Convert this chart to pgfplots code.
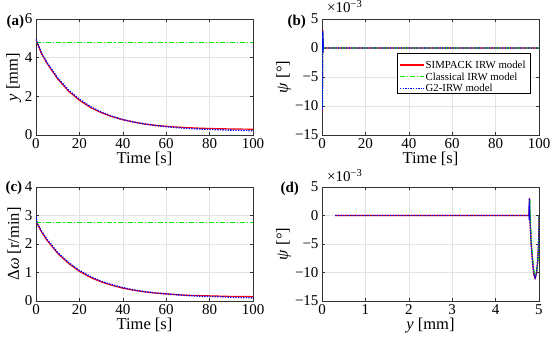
\documentclass[border=0pt]{standalone}
\usepackage{fontspec}
\setmainfont{Liberation Serif}
\usepackage{pgfplots}
\pgfplotsset{compat=1.18}
\definecolor{mred}{rgb}{1,0,0}
\definecolor{mgreen}{rgb}{0,0.92,0}
\definecolor{mblue}{rgb}{0,0,1}
\pgfplotsset{
  mystyle/.style={
    scale only axis, width=217pt, anchor=south west,
    axis line style={black!80, line width=0.6pt},
    grid=major, grid style={gray!22, line width=0.4pt},
    tick style={black!80, line width=0.5pt}, major tick length=3pt,
    tick align=inside,
    /pgf/number format/assume math mode=true,
    tick label style={font=\fontsize{15}{16}\selectfont},
    label style={font=\fontsize{16.5}{17}\selectfont},
    xlabel style={yshift=3pt},
    ylabel style={yshift=-3pt},
  },
}
\tikzset{
  sred/.style={color=mred, draw=mred, solid, line width=1.2pt},
  sgreen/.style={color=mgreen, draw=mgreen, dash pattern=on 5pt off 2pt on 1.2pt off 2pt, line width=1.2pt},
  sblue/.style={color=mblue, draw=mblue, dash pattern=on 1.3pt off 1.3pt, line width=1.4pt},
}
\begin{document}
\begin{tikzpicture}
\path[use as bounding box] (0pt,0pt) rectangle (550pt,347pt);
% (a)
\begin{axis}[mystyle, at={(36pt,212pt)}, height=116pt,
  xmin=0, xmax=100, ymin=0, ymax=6, xtick={0,20,...,100}, ytick={0,2,4,6},
  xlabel={Time [s]}, ylabel={\textit{y} [mm]}]
\addplot[sred] coordinates {(0,4.85)(0.5,4.78)(2.5,4.22)(5,3.72)(10,2.90)(15,2.27)(20,1.80)(25,1.43)(30,1.16)(35,0.95)(40,0.79)(45,0.67)(50,0.57)(55,0.50)(60,0.45)(65,0.41)(70,0.38)(75,0.355)(80,0.337)(85,0.323)(90,0.313)(95,0.305)(100,0.299)};
\addplot[sgreen] coordinates {(0,4.8)(100,4.8)};
\addplot[sblue] coordinates {(0,4.95)(0.5,4.82)(2.5,4.25)(5,3.76)(10,2.95)(15,2.32)(20,1.85)(25,1.47)(30,1.19)(35,0.97)(40,0.80)(45,0.67)(50,0.57)(55,0.49)(60,0.43)(65,0.38)(70,0.34)(75,0.31)(80,0.29)(85,0.27)(90,0.25)(95,0.24)(100,0.22)};
\end{axis}
% (b)
\begin{axis}[mystyle, at={(322pt,212pt)}, height=116pt,
  xmin=0, xmax=100, ymin=-15, ymax=5, xtick={0,20,...,100},
  ytick={-15,-10,-5,0,5}, yticklabels={−15,−10,−5,0,5},
  xlabel={Time [s]}, ylabel={\textit{ψ} [°]}]
\addplot[sred] coordinates {(0,0)(0.04,-4)(0.08,-8.5)(0.12,-10.8)(0.16,-9.5)(0.2,-5.5)(0.25,-1)(0.3,2.2)(0.34,3.1)(0.38,1.2)(0.42,-0.8)(0.46,1.8)(0.5,0.3)(0.6,0)(100,0)};
\addplot[sgreen] coordinates {(0,0)(0.04,-4)(0.08,-8.3)(0.12,-10.3)(0.16,-9)(0.2,-5)(0.25,-1)(0.3,2)(0.34,2.8)(0.38,1)(0.42,-0.5)(0.46,1.5)(0.5,0.2)(0.6,0)(100,0)};
\addplot[sblue] coordinates {(0,0)(0.04,-4)(0.08,-8.5)(0.12,-10.7)(0.16,-9.4)(0.2,-5.4)(0.25,-1)(0.3,2.2)(0.34,3.0)(0.38,1.2)(0.42,-0.8)(0.46,1.7)(0.5,0.3)(0.6,0)(100,0)};
\end{axis}
% legend of (b)
\draw[black, line width=0.5pt, fill=white] (397pt,253.7pt) rectangle (530pt,293.7pt);
\draw[sred] (400pt,282pt) -- (424pt,282pt);
\draw[sgreen] (400pt,270.3pt) -- (424pt,270.3pt);
\draw[sblue] (400pt,258.7pt) -- (424pt,258.7pt);
\node[anchor=west, font=\fontsize{10.8}{11}\selectfont, inner sep=0pt] at (425.5pt,282pt) {SIMPACK IRW model};
\node[anchor=west, font=\fontsize{10.8}{11}\selectfont, inner sep=0pt] at (425.5pt,270.3pt) {Classical IRW model};
\node[anchor=west, font=\fontsize{10.8}{11}\selectfont, inner sep=0pt] at (425.5pt,258.7pt) {G2-IRW model};
% (c)
\begin{axis}[mystyle, at={(36pt,46pt)}, height=114pt,
  xmin=0, xmax=100, ymin=0, ymax=4, xtick={0,20,...,100}, ytick={0,1,2,3,4},
  xlabel={Time [s]}, ylabel={Δ\textit{ω} [r/min]}]
\addplot[sred] coordinates {(0,2.78)(0.5,2.72)(2.5,2.43)(5,2.14)(10,1.67)(15,1.32)(20,1.04)(25,0.83)(30,0.67)(35,0.55)(40,0.45)(45,0.38)(50,0.32)(55,0.28)(60,0.25)(65,0.22)(70,0.20)(75,0.19)(80,0.18)(85,0.17)(90,0.16)(95,0.157)(100,0.153)};
\addplot[sgreen] coordinates {(0,2.75)(100,2.75)};
\addplot[sblue] coordinates {(0,2.98)(0.5,2.74)(2.5,2.46)(5,2.17)(10,1.70)(15,1.35)(20,1.07)(25,0.86)(30,0.69)(35,0.57)(40,0.47)(45,0.39)(50,0.33)(55,0.28)(60,0.25)(65,0.22)(70,0.19)(75,0.17)(80,0.16)(85,0.15)(90,0.13)(95,0.12)(100,0.11)};
\end{axis}
% (d)
\begin{axis}[mystyle, at={(322pt,46pt)}, height=114pt,
  xmin=0, xmax=5, ymin=-15, ymax=5, xtick={0,1,...,5},
  ytick={-15,-10,-5,0,5}, yticklabels={−15,−10,−5,0,5},
  xlabel={\textit{y} [mm]}, ylabel={\textit{ψ} [°]}]
\addplot[sred] coordinates {(5.0,0)(5.0,-2)(4.99,-5)(4.97,-8)(4.94,-10.3)(4.91,-11)(4.88,-10.3)(4.85,-8)(4.82,-5)(4.80,-2)(4.785,0.5)(4.78,3.1)(4.775,1.2)(4.78,-0.8)(4.775,1.8)(4.77,0.3)(4.76,0)(4.7,0)(0.3,0)};
\addplot[sgreen] coordinates {(5.0,0)(5.0,-2)(4.995,-5)(4.975,-8)(4.95,-10)(4.92,-10.5)(4.89,-10)(4.86,-8)(4.83,-5)(4.81,-2)(4.795,0.5)(4.79,2.8)(4.785,1)(4.79,-0.5)(4.785,1.5)(4.8,0.2)(4.8,0)};
\addplot[sblue] coordinates {(5.0,0)(5.0,-2)(4.99,-5)(4.97,-8)(4.94,-10.2)(4.91,-10.9)(4.88,-10.2)(4.85,-8)(4.82,-5)(4.80,-2)(4.785,0.5)(4.78,3.0)(4.775,1.2)(4.78,-0.8)(4.775,1.7)(4.77,0.3)(4.76,0)(4.7,0)(0.3,0)};
\end{axis}
\node[anchor=base west, font=\bfseries\fontsize{15}{15}\selectfont] at (3pt,321pt) {(a)};
\node[anchor=base west, font=\bfseries\fontsize{15}{15}\selectfont] at (284pt,321pt) {(b)};
\node[anchor=base west, font=\bfseries\fontsize{15}{15}\selectfont] at (2pt,155pt) {(c)};
\node[anchor=base west, font=\bfseries\fontsize{15}{15}\selectfont] at (277pt,154pt) {(d)};
\node[anchor=base west, font=\fontsize{15}{16}\selectfont, inner sep=0pt] at (327pt,334pt) {×10\textsuperscript{−3}};
\node[anchor=base west, font=\fontsize{15}{16}\selectfont, inner sep=0pt] at (327pt,165pt) {×10\textsuperscript{−3}};
\end{tikzpicture}
\end{document}
